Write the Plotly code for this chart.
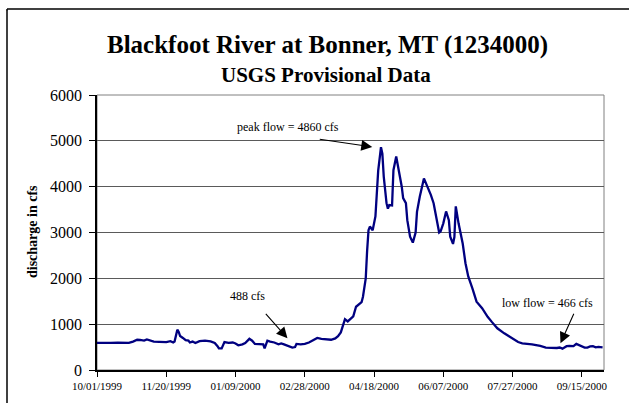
import plotly.graph_objects as go

# ---- data ----
dates = [
    "1999-10-01", "1999-10-06", "1999-10-11", "1999-10-16", "1999-10-21", "1999-10-24",
    "1999-10-27", "1999-10-30", "1999-11-01", "1999-11-04", "1999-11-06", "1999-11-08",
    "1999-11-11", "1999-11-15", "1999-11-20", "1999-11-23", "1999-11-25", "1999-11-26",
    "1999-11-28", "1999-11-29", "1999-11-30", "1999-12-02", "1999-12-04", "1999-12-06",
    "1999-12-07", "1999-12-09", "1999-12-11", "1999-12-14", "1999-12-18", "1999-12-22",
    "1999-12-25", "1999-12-27", "1999-12-28", "1999-12-30", "2000-01-01", "2000-01-04",
    "2000-01-07", "2000-01-09", "2000-01-11", "2000-01-14", "2000-01-16", "2000-01-19",
    "2000-01-21", "2000-01-23", "2000-01-26", "2000-01-29", "2000-01-30", "2000-02-01",
    "2000-02-03", "2000-02-06", "2000-02-09", "2000-02-11", "2000-02-13", "2000-02-15",
    "2000-02-17", "2000-02-19", "2000-02-21", "2000-02-22", "2000-02-25", "2000-02-28",
    "2000-03-02", "2000-03-05", "2000-03-08", "2000-03-11", "2000-03-15", "2000-03-18",
    "2000-03-21", "2000-03-23", "2000-03-25", "2000-03-27", "2000-03-28", "2000-03-30",
    "2000-04-01", "2000-04-03", "2000-04-05", "2000-04-07", "2000-04-09", "2000-04-10",
    "2000-04-12", "2000-04-13", "2000-04-14", "2000-04-15", "2000-04-17", "2000-04-19",
    "2000-04-20", "2000-04-21", "2000-04-23", "2000-04-24", "2000-04-25", "2000-04-27",
    "2000-04-28", "2000-04-29", "2000-05-01", "2000-05-02", "2000-05-04", "2000-05-06",
    "2000-05-08", "2000-05-09", "2000-05-11", "2000-05-12", "2000-05-14", "2000-05-16",
    "2000-05-18", "2000-05-19", "2000-05-21", "2000-05-24", "2000-05-26", "2000-05-29",
    "2000-05-31", "2000-06-02", "2000-06-04", "2000-06-05", "2000-06-07", "2000-06-09",
    "2000-06-11", "2000-06-12", "2000-06-14", "2000-06-15", "2000-06-16", "2000-06-18",
    "2000-06-21", "2000-06-23", "2000-06-25", "2000-06-28", "2000-07-01", "2000-07-05",
    "2000-07-09", "2000-07-12", "2000-07-16", "2000-07-21", "2000-07-27", "2000-07-31",
    "2000-08-03", "2000-08-10", "2000-08-16", "2000-08-20", "2000-08-28", "2000-08-30",
    "2000-09-01", "2000-09-04", "2000-09-06", "2000-09-09", "2000-09-11", "2000-09-14",
    "2000-09-17", "2000-09-19", "2000-09-21", "2000-09-23", "2000-09-25", "2000-09-27",
    "2000-09-30",
]
discharge = [
    590, 585, 590, 595, 590, 590,
    620, 660, 655, 640, 665, 650,
    620, 615, 610, 630, 600, 620,
    880, 830, 740, 700, 650, 640,
    600, 620, 590, 630, 640, 625,
    590, 520, 470, 470, 610, 590,
    600, 580, 540, 560, 590, 680,
    640, 570, 560, 560, 470, 640,
    620, 600, 560, 580, 560, 540,
    520, 488, 500, 570, 560, 570,
    600, 650, 700, 680, 660, 660,
    690, 740, 820, 1000, 1110, 1060,
    1120, 1170, 1380, 1440, 1480, 1600,
    2000, 2600, 3050, 3130, 3050, 3350,
    4000, 4350, 4860, 4720, 4220, 3640,
    3520, 3600, 3590, 4360, 4660, 4360,
    4000, 3750, 3640, 3270, 2910, 2780,
    3000, 3450, 3780, 4180, 4040, 3820,
    3640, 3270, 3000, 3020, 3200, 3460,
    3270, 2910, 2750, 2900, 3570, 3200,
    2760, 2330, 2040, 1780, 1490, 1350,
    1160, 1050, 910, 800, 680, 610,
    580, 560, 525, 490, 480, 490,
    466, 520, 525, 520, 570, 525,
    488, 490, 515, 520, 495, 505,
    495,
]
tick_dates = ["1999-10-01", "1999-11-20", "2000-01-09", "2000-02-28",
              "2000-04-18", "2000-06-07", "2000-07-27", "2000-09-15"]
tick_labels = ["10/01/1999", "11/20/1999", "01/09/2000", "02/28/2000",
               "04/18/2000", "06/07/2000", "07/27/2000", "09/15/2000"]
y_ticks = [0, 1000, 2000, 3000, 4000, 5000, 6000]

title_text = "Blackfoot River at Bonner, MT (1234000)"
subtitle_text = "USGS Provisional Data"
y_title = "discharge in cfs"

# ---- layout geometry (pixels) ----
W, H = 629, 403
L, R, T, B = 97, 604, 95, 370


def px(x):
    return (x - L) / (R - L)


def py(y):
    return (B - y) / (B - T)


SERIF = "Liberation Serif, Times New Roman, serif"

fig = go.Figure()
fig.add_trace(go.Scatter(
    x=dates, y=discharge, mode="lines",
    line=dict(color="#000080", width=2.3),
    hoverinfo="skip", showlegend=False,
))

fig.update_layout(
    width=W, height=H,
    margin=dict(l=L, r=W - R, t=T, b=H - B),
    paper_bgcolor="white", plot_bgcolor="white",
    showlegend=False,
    xaxis=dict(
        type="date", range=["1999-10-01", "2000-10-01"],
        tickvals=tick_dates, ticktext=tick_labels,
        ticks="outside", ticklen=5, tickcolor="black", tickwidth=1,
        showline=True, linecolor="black", linewidth=1.5,
        showgrid=False, zeroline=False,
        tickfont=dict(family=SERIF, size=11, color="black"),
    ),
    yaxis=dict(
        range=[0, 6000], tickvals=y_ticks,
        ticks="outside", ticklen=6, tickcolor="black", tickwidth=1,
        showline=True, linecolor="black", linewidth=1.5,
        showgrid=True, gridcolor="#5a5a5a", gridwidth=1,
        zeroline=False, ticklabelstandoff=4,
        tickfont=dict(family=SERIF, size=16, color="black"),
    ),
)

shapes = [
    # plot-area border
    dict(type="rect", xref="paper", yref="paper", x0=0, x1=1, y0=0, y1=1,
         line=dict(color="#808080", width=1), layer="below"),
    # chart frame: top and left edges (others lie outside the picture)
    dict(type="line", xref="paper", yref="paper",
         x0=px(7), x1=px(629), y0=py(9), y1=py(9),
         line=dict(color="black", width=1.5)),
    dict(type="line", xref="paper", yref="paper",
         x0=px(7), x1=px(7), y0=py(9), y1=py(403),
         line=dict(color="black", width=1.5)),
]
fig.update_layout(shapes=shapes)

ann = []
ann.append(dict(text=f"<b>{title_text}</b>", xref="paper", yref="paper",
                x=px(327), y=py(45), showarrow=False, xanchor="center", yanchor="middle",
                font=dict(family=SERIF, size=25, color="black")))
ann.append(dict(text=f"<b>{subtitle_text}</b>", xref="paper", yref="paper",
                x=px(326), y=py(75), showarrow=False, xanchor="center", yanchor="middle",
                font=dict(family=SERIF, size=21, color="black")))
ann.append(dict(text=f"<b>{y_title}</b>", xref="paper", yref="paper",
                x=px(32), y=py(232), showarrow=False, textangle=-90,
                xanchor="center", yanchor="middle",
                font=dict(family=SERIF, size=14, color="black")))
# annotation labels
for txt, cx, cy in [("peak flow = 4860 cfs", 288, 127),
                    ("488 cfs", 247, 296),
                    ("low flow = 466 cfs", 547, 303)]:
    ann.append(dict(text=txt, xref="paper", yref="paper",
                    x=px(cx), y=py(cy), showarrow=False,
                    xanchor="center", yanchor="middle",
                    font=dict(family=SERIF, size=12, color="black")))
# arrows (tip in data coords, tail offsets in pixels)
for tip_x, tip_y, ax, ay in [
    ("2000-04-16 17:00", 4866, -54, -8),
    ("2000-02-15 12:00", 692, -23, -26),
    ("2000-08-30 14:00", 583, 14, -31),
]:
    ann.append(dict(text="", x=tip_x, y=tip_y, xref="x", yref="y",
                    showarrow=True, arrowhead=2, arrowsize=2, arrowwidth=1.1,
                    arrowcolor="black", ax=ax, ay=ay, standoff=0))
# tiny mark in the top-left corner
ann.append(dict(text=".", xref="paper", yref="paper", x=px(4), y=py(2),
                showarrow=False, font=dict(family=SERIF, size=8, color="black")))
fig.update_layout(annotations=ann)

fig.write_html("out.html", config={"displayModeBar": False},
               post_script="document.body.style.margin='0';document.body.style.overflow='hidden';")
